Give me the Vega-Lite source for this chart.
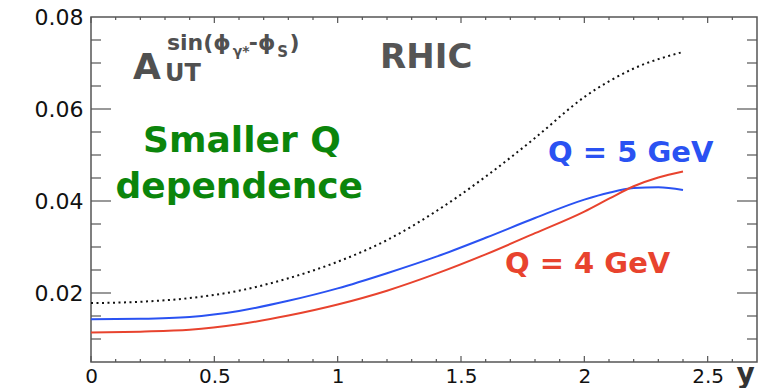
{
  "$schema": "https://vega.github.io/schema/vega-lite/v6.json",
  "width": 666,
  "height": 345,
  "autosize": {"type": "none"},
  "padding": {"left": 91, "top": 17, "right": 19, "bottom": 26},
  "background": "white",
  "config": {
    "view": {"stroke": "#555555", "strokeWidth": 1.5},
    "axis": {
      "grid": false,
      "domain": false,
      "ticks": false,
      "labelFont": "DejaVu Sans",
      "labelFontSize": 22,
      "labelColor": "#111111",
      "labelFlush": false,
      "labelOverlap": false
    }
  },
  "data": {"values": [{}]},
  "datasets": {
    "curves": [
      {"series": "dotted", "x": 0.0, "y": 0.0178},
      {"series": "dotted", "x": 0.2, "y": 0.0181},
      {"series": "dotted", "x": 0.4, "y": 0.0189},
      {"series": "dotted", "x": 0.6, "y": 0.0205},
      {"series": "dotted", "x": 0.8, "y": 0.0232},
      {"series": "dotted", "x": 1.0, "y": 0.0268},
      {"series": "dotted", "x": 1.2, "y": 0.0315},
      {"series": "dotted", "x": 1.4, "y": 0.0378},
      {"series": "dotted", "x": 1.6, "y": 0.0453},
      {"series": "dotted", "x": 1.8, "y": 0.0537},
      {"series": "dotted", "x": 2.0, "y": 0.0626},
      {"series": "dotted", "x": 2.2, "y": 0.0688},
      {"series": "dotted", "x": 2.4, "y": 0.0724},
      {"series": "Q = 5 GeV", "x": 0.0, "y": 0.0143},
      {"series": "Q = 5 GeV", "x": 0.2, "y": 0.0144},
      {"series": "Q = 5 GeV", "x": 0.4, "y": 0.0148},
      {"series": "Q = 5 GeV", "x": 0.6, "y": 0.0161},
      {"series": "Q = 5 GeV", "x": 0.8, "y": 0.0183},
      {"series": "Q = 5 GeV", "x": 1.0, "y": 0.0210},
      {"series": "Q = 5 GeV", "x": 1.2, "y": 0.0243},
      {"series": "Q = 5 GeV", "x": 1.4, "y": 0.0279},
      {"series": "Q = 5 GeV", "x": 1.6, "y": 0.0320},
      {"series": "Q = 5 GeV", "x": 1.8, "y": 0.0363},
      {"series": "Q = 5 GeV", "x": 2.0, "y": 0.0403},
      {"series": "Q = 5 GeV", "x": 2.1, "y": 0.0418},
      {"series": "Q = 5 GeV", "x": 2.2, "y": 0.0428},
      {"series": "Q = 5 GeV", "x": 2.3, "y": 0.0430},
      {"series": "Q = 5 GeV", "x": 2.4, "y": 0.0424},
      {"series": "Q = 4 GeV", "x": 0.0, "y": 0.0114},
      {"series": "Q = 4 GeV", "x": 0.2, "y": 0.0116},
      {"series": "Q = 4 GeV", "x": 0.4, "y": 0.0120},
      {"series": "Q = 4 GeV", "x": 0.6, "y": 0.0132},
      {"series": "Q = 4 GeV", "x": 0.8, "y": 0.0151},
      {"series": "Q = 4 GeV", "x": 1.0, "y": 0.0175},
      {"series": "Q = 4 GeV", "x": 1.2, "y": 0.0205},
      {"series": "Q = 4 GeV", "x": 1.4, "y": 0.0242},
      {"series": "Q = 4 GeV", "x": 1.6, "y": 0.0284},
      {"series": "Q = 4 GeV", "x": 1.8, "y": 0.0330},
      {"series": "Q = 4 GeV", "x": 2.0, "y": 0.0377},
      {"series": "Q = 4 GeV", "x": 2.1, "y": 0.0405},
      {"series": "Q = 4 GeV", "x": 2.2, "y": 0.0432},
      {"series": "Q = 4 GeV", "x": 2.3, "y": 0.0451},
      {"series": "Q = 4 GeV", "x": 2.4, "y": 0.0464}
    ],
    "xMajor": [{"v": 0}, {"v": 0.5}, {"v": 1}, {"v": 1.5}, {"v": 2}, {"v": 2.5}],
    "xMinor": [{"v": 0.1}, {"v": 0.2}, {"v": 0.3}, {"v": 0.4}, {"v": 0.6}, {"v": 0.7}, {"v": 0.8}, {"v": 0.9}, {"v": 1.1}, {"v": 1.2}, {"v": 1.3}, {"v": 1.4}, {"v": 1.6}, {"v": 1.7}, {"v": 1.8}, {"v": 1.9}, {"v": 2.1}, {"v": 2.2}, {"v": 2.3}, {"v": 2.4}, {"v": 2.6}],
    "yMajor": [{"v": 0.02}, {"v": 0.04}, {"v": 0.06}],
    "yMinor": [{"v": 0.01}, {"v": 0.015}, {"v": 0.025}, {"v": 0.03}, {"v": 0.035}, {"v": 0.045}, {"v": 0.05}, {"v": 0.055}, {"v": 0.065}, {"v": 0.07}, {"v": 0.075}]
  },
  "layer": [
    {
      "data": {"name": "curves"},
      "transform": [{"filter": "datum.series === 'dotted'"}],
      "mark": {"type": "line", "interpolate": "monotone", "color": "#111111", "strokeWidth": 2, "strokeDash": [2, 3.5]},
      "encoding": {
        "x": {
          "field": "x", "type": "quantitative",
          "scale": {"domain": [0, 2.7], "nice": false, "zero": false},
          "axis": {
            "orient": "bottom", "values": [0, 0.5, 1, 1.5, 2, 2.5], "format": "~g",
            "labelPadding": 4, "labelFontSize": 20,
            "title": "y", "titleFont": "DejaVu Sans", "titleFontSize": 28, "titleFontWeight": "bold",
            "titleColor": "#333333", "titleAlign": "left", "titleBaseline": "alphabetic",
            "titleAnchor": "start", "titleX": 645, "titleY": 20
          }
        },
        "y": {
          "field": "y", "type": "quantitative",
          "scale": {"domain": [0.005, 0.08], "nice": false, "zero": false},
          "axis": {
            "orient": "left", "values": [0.02, 0.04, 0.06, 0.08], "format": ".2f",
            "labelPadding": 8, "title": null
          }
        }
      }
    },
    {
      "data": {"name": "curves"},
      "transform": [{"filter": "datum.series === 'Q = 5 GeV'"}],
      "mark": {"type": "line", "interpolate": "monotone", "color": "#2a52f2", "strokeWidth": 2},
      "encoding": {
        "x": {"field": "x", "type": "quantitative", "axis": null},
        "y": {"field": "y", "type": "quantitative", "axis": null}
      }
    },
    {
      "data": {"name": "curves"},
      "transform": [{"filter": "datum.series === 'Q = 4 GeV'"}],
      "mark": {"type": "line", "interpolate": "monotone", "color": "#e8432e", "strokeWidth": 2},
      "encoding": {
        "x": {"field": "x", "type": "quantitative", "axis": null},
        "y": {"field": "y", "type": "quantitative", "axis": null}
      }
    },
    {
      "data": {"name": "xMajor"},
      "mark": {"type": "rule", "color": "#555555", "strokeWidth": 1.2, "y2Offset": -6},
      "encoding": {
        "x": {"field": "v", "type": "quantitative", "axis": null},
        "y": {"datum": 0.005, "type": "quantitative", "axis": null},
        "y2": {"datum": 0.005}
      }
    },
    {
      "data": {"name": "xMajor"},
      "mark": {"type": "rule", "color": "#555555", "strokeWidth": 1.2, "y2Offset": 6},
      "encoding": {
        "x": {"field": "v", "type": "quantitative", "axis": null},
        "y": {"datum": 0.08, "type": "quantitative", "axis": null},
        "y2": {"datum": 0.08}
      }
    },
    {
      "data": {"name": "xMinor"},
      "mark": {"type": "rule", "color": "#555555", "strokeWidth": 1.2, "y2Offset": -3},
      "encoding": {
        "x": {"field": "v", "type": "quantitative", "axis": null},
        "y": {"datum": 0.005, "type": "quantitative", "axis": null},
        "y2": {"datum": 0.005}
      }
    },
    {
      "data": {"name": "xMinor"},
      "mark": {"type": "rule", "color": "#555555", "strokeWidth": 1.2, "y2Offset": 3},
      "encoding": {
        "x": {"field": "v", "type": "quantitative", "axis": null},
        "y": {"datum": 0.08, "type": "quantitative", "axis": null},
        "y2": {"datum": 0.08}
      }
    },
    {
      "data": {"name": "yMajor"},
      "mark": {"type": "rule", "color": "#555555", "strokeWidth": 1.2, "x2Offset": 20},
      "encoding": {
        "y": {"field": "v", "type": "quantitative", "axis": null},
        "x": {"datum": 0, "type": "quantitative", "axis": null},
        "x2": {"datum": 0}
      }
    },
    {
      "data": {"name": "yMajor"},
      "mark": {"type": "rule", "color": "#555555", "strokeWidth": 1.2, "x2Offset": -20},
      "encoding": {
        "y": {"field": "v", "type": "quantitative", "axis": null},
        "x": {"datum": 2.7, "type": "quantitative", "axis": null},
        "x2": {"datum": 2.7}
      }
    },
    {
      "data": {"name": "yMinor"},
      "mark": {"type": "rule", "color": "#555555", "strokeWidth": 1.2, "x2Offset": 10},
      "encoding": {
        "y": {"field": "v", "type": "quantitative", "axis": null},
        "x": {"datum": 0, "type": "quantitative", "axis": null},
        "x2": {"datum": 0}
      }
    },
    {
      "data": {"name": "yMinor"},
      "mark": {"type": "rule", "color": "#555555", "strokeWidth": 1.2, "x2Offset": -10},
      "encoding": {
        "y": {"field": "v", "type": "quantitative", "axis": null},
        "x": {"datum": 2.7, "type": "quantitative", "axis": null},
        "x2": {"datum": 2.7}
      }
    },
    {
      "mark": {"type": "text", "text": "A", "font": "DejaVu Sans", "fontSize": 36, "fontWeight": "bold", "color": "#505050", "align": "left", "baseline": "alphabetic"},
      "encoding": {"x": {"datum": 0.17, "type": "quantitative", "axis": null}, "y": {"datum": 0.0665, "type": "quantitative", "axis": null}}
    },
    {
      "mark": {"type": "text", "text": "UT", "font": "DejaVu Sans", "fontSize": 24, "fontWeight": "bold", "color": "#505050", "align": "left", "baseline": "alphabetic"},
      "encoding": {"x": {"datum": 0.3, "type": "quantitative", "axis": null}, "y": {"datum": 0.0661, "type": "quantitative", "axis": null}}
    },
    {
      "mark": {"type": "text", "text": "sin(ϕ", "font": "DejaVu Sans", "fontSize": 22, "fontWeight": "bold", "color": "#505050", "align": "left", "baseline": "alphabetic"},
      "encoding": {"x": {"datum": 0.308, "type": "quantitative", "axis": null}, "y": {"datum": 0.0728, "type": "quantitative", "axis": null}}
    },
    {
      "mark": {"type": "text", "text": "γ*", "font": "DejaVu Sans", "fontSize": 14, "fontWeight": "bold", "color": "#505050", "align": "left", "baseline": "alphabetic"},
      "encoding": {"x": {"datum": 0.575, "type": "quantitative", "axis": null}, "y": {"datum": 0.0715, "type": "quantitative", "axis": null}}
    },
    {
      "mark": {"type": "text", "text": "-ϕ", "font": "DejaVu Sans", "fontSize": 22, "fontWeight": "bold", "color": "#505050", "align": "left", "baseline": "alphabetic"},
      "encoding": {"x": {"datum": 0.64, "type": "quantitative", "axis": null}, "y": {"datum": 0.0728, "type": "quantitative", "axis": null}}
    },
    {
      "mark": {"type": "text", "text": "S", "font": "DejaVu Sans", "fontSize": 15, "fontWeight": "bold", "color": "#505050", "align": "left", "baseline": "alphabetic"},
      "encoding": {"x": {"datum": 0.755, "type": "quantitative", "axis": null}, "y": {"datum": 0.0713, "type": "quantitative", "axis": null}}
    },
    {
      "mark": {"type": "text", "text": ")", "font": "DejaVu Sans", "fontSize": 22, "fontWeight": "bold", "color": "#505050", "align": "left", "baseline": "alphabetic"},
      "encoding": {"x": {"datum": 0.805, "type": "quantitative", "axis": null}, "y": {"datum": 0.0728, "type": "quantitative", "axis": null}}
    },
    {
      "mark": {"type": "text", "text": "RHIC", "font": "DejaVu Sans", "fontSize": 34, "fontWeight": "bold", "color": "#555555", "align": "left", "baseline": "alphabetic"},
      "encoding": {"x": {"datum": 1.172, "type": "quantitative", "axis": null}, "y": {"datum": 0.0689, "type": "quantitative", "axis": null}}
    },
    {
      "mark": {"type": "text", "text": "Smaller Q", "font": "DejaVu Sans", "fontSize": 36, "fontWeight": "bold", "color": "#0b850b", "align": "center", "baseline": "alphabetic"},
      "encoding": {"x": {"datum": 0.612, "type": "quantitative", "axis": null}, "y": {"datum": 0.0507, "type": "quantitative", "axis": null}}
    },
    {
      "mark": {"type": "text", "text": "dependence", "font": "DejaVu Sans", "fontSize": 36, "fontWeight": "bold", "color": "#0b850b", "align": "center", "baseline": "alphabetic"},
      "encoding": {"x": {"datum": 0.601, "type": "quantitative", "axis": null}, "y": {"datum": 0.0407, "type": "quantitative", "axis": null}}
    },
    {
      "mark": {"type": "text", "text": "Q = 5 GeV", "font": "DejaVu Sans", "fontSize": 29, "fontWeight": "bold", "color": "#2a52f2", "align": "left", "baseline": "alphabetic"},
      "encoding": {"x": {"datum": 1.853, "type": "quantitative", "axis": null}, "y": {"datum": 0.0485, "type": "quantitative", "axis": null}}
    },
    {
      "mark": {"type": "text", "text": "Q = 4 GeV", "font": "DejaVu Sans", "fontSize": 29, "fontWeight": "bold", "color": "#e8432e", "align": "left", "baseline": "alphabetic"},
      "encoding": {"x": {"datum": 1.678, "type": "quantitative", "axis": null}, "y": {"datum": 0.0244, "type": "quantitative", "axis": null}}
    }
  ],
  "resolve": {"axis": {"x": "independent", "y": "independent"}}
}
